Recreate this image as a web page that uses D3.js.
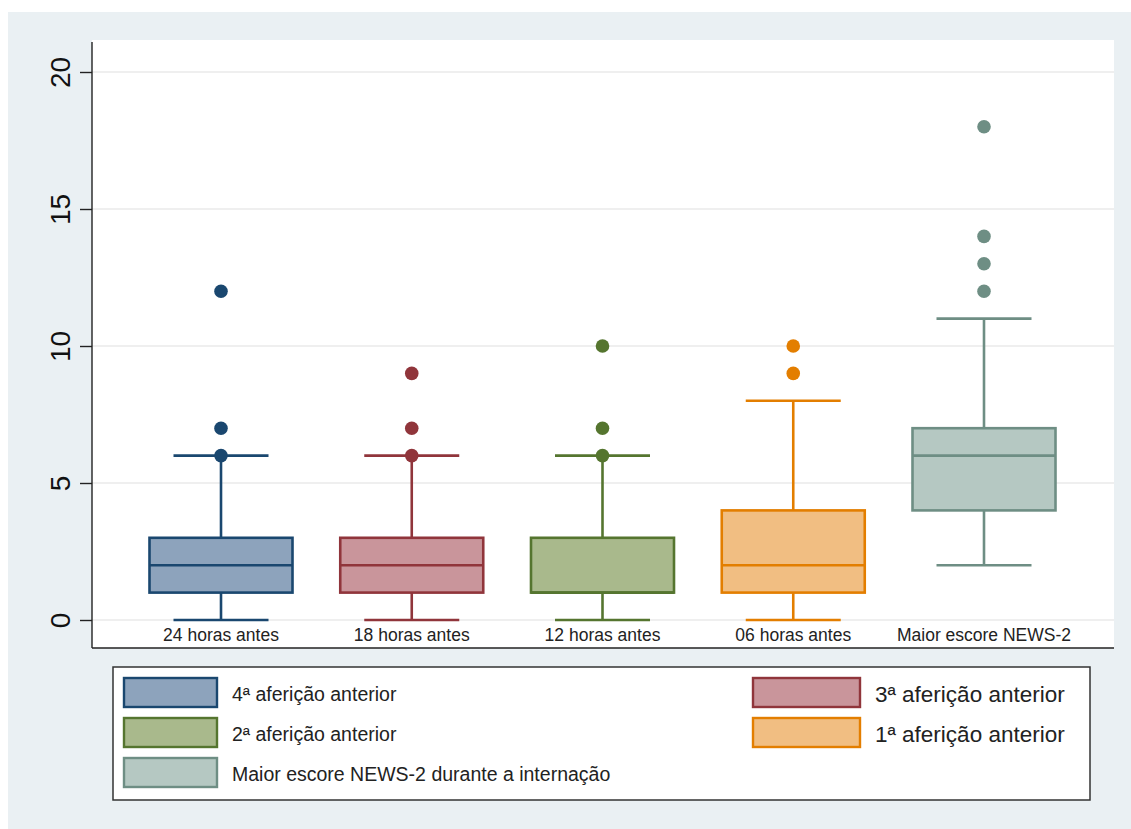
<!DOCTYPE html>
<html>
<head>
<meta charset="utf-8">
<script src="https://cdn.jsdelivr.net/npm/d3@7"></script>
<style>
  body { margin: 0; background: #ffffff; }
  svg { display: block; font-family: "Liberation Sans", Arial, sans-serif; }
</style>
</head>
<body>
<svg id="chart" width="1131" height="829"></svg>
<script>
// NEWS-2 scores at successive measurements before the event
const categories = ["24 horas antes", "18 horas antes", "12 horas antes", "06 horas antes", "Maior escore NEWS-2"];
const legendLabels = ["4ª aferição anterior", "3ª aferição anterior", "2ª aferição anterior", "1ª aferição anterior", "Maior escore NEWS-2 durante a internação"];
const whiskerLow  = [0, 0, 0, 0, 2];
const q1          = [1, 1, 1, 1, 4];
const median      = [2, 2, 1, 2, 6];
const q3          = [3, 3, 3, 4, 7];
const whiskerHigh = [6, 6, 6, 8, 11];
const outliers    = [[6, 7, 12], [6, 7, 9], [6, 7, 10], [9, 10], [12, 13, 14, 18]];
const yTicks      = [0, 5, 10, 15, 20];

const strokeColors = ["#1a476f", "#90353b", "#55752f", "#e37e00", "#6e8e84"];
const fillColors   = ["#8da3bc", "#c9959b", "#a9b98c", "#f1be82", "#b5c8c2"];

const svg = d3.select("#chart");

// outer graph region
svg.append("rect").attr("x", 8).attr("y", 12).attr("width", 1123).attr("height", 817).attr("fill", "#eaf0f3");

const plot = { left: 92, right: 1114, top: 40, bottom: 648 };
svg.append("rect")
  .attr("x", plot.left).attr("y", plot.top)
  .attr("width", plot.right - plot.left).attr("height", plot.bottom - plot.top)
  .attr("fill", "#ffffff");

const y = d3.scaleLinear().domain([0, 20]).range([620, 72]);
const x = d3.scalePoint().domain(categories).range([221, 984]);
const boxW = 143, capW = 95;

// gridlines
svg.append("g").selectAll("line").data(yTicks).join("line")
  .attr("x1", plot.left).attr("x2", plot.right)
  .attr("y1", d => y(d)).attr("y2", d => y(d))
  .attr("stroke", "#eaeaea").attr("stroke-width", 1.6);

// y axis
const yAxis = svg.append("g").attr("transform", `translate(${plot.left},0)`)
  .call(d3.axisLeft(y).tickValues(yTicks).tickSize(12).tickFormat(d3.format("d")));
yAxis.select(".domain").attr("d", `M0,${plot.top + 2}V${plot.bottom}`).attr("stroke", "#222").attr("stroke-width", 1.4);
yAxis.selectAll(".tick line").attr("stroke", "#222").attr("stroke-width", 1.4);
yAxis.selectAll(".tick text")
  .attr("x", null).attr("dy", null)
  .attr("transform", "translate(-22,0) rotate(-90)")
  .attr("text-anchor", "middle")
  .attr("font-size", 28)
  .attr("font-family", "'Liberation Sans', Arial, sans-serif")
  .attr("fill", "#111");

// x axis line
svg.append("line")
  .attr("x1", plot.left).attr("x2", plot.right)
  .attr("y1", plot.bottom).attr("y2", plot.bottom)
  .attr("stroke", "#222").attr("stroke-width", 1.4);

// boxes
const boxes = svg.append("g").selectAll("g").data(categories).join("g");
boxes.each(function (c, i) {
  const g = d3.select(this);
  const cx = x(c);
  const col = strokeColors[i];
  // whiskers
  g.append("line").attr("x1", cx).attr("x2", cx).attr("y1", y(q3[i])).attr("y2", y(whiskerHigh[i]))
    .attr("stroke", col).attr("stroke-width", 2.6);
  g.append("line").attr("x1", cx).attr("x2", cx).attr("y1", y(q1[i])).attr("y2", y(whiskerLow[i]))
    .attr("stroke", col).attr("stroke-width", 2.6);
  g.append("line").attr("x1", cx - capW / 2).attr("x2", cx + capW / 2).attr("y1", y(whiskerHigh[i])).attr("y2", y(whiskerHigh[i]))
    .attr("stroke", col).attr("stroke-width", 2.6);
  g.append("line").attr("x1", cx - capW / 2).attr("x2", cx + capW / 2).attr("y1", y(whiskerLow[i])).attr("y2", y(whiskerLow[i]))
    .attr("stroke", col).attr("stroke-width", 2.6);
  // box
  g.append("rect")
    .attr("x", cx - boxW / 2).attr("width", boxW)
    .attr("y", y(q3[i])).attr("height", y(q1[i]) - y(q3[i]))
    .attr("fill", fillColors[i]).attr("stroke", col).attr("stroke-width", 2.6);
  g.append("line").attr("x1", cx - boxW / 2).attr("x2", cx + boxW / 2).attr("y1", y(median[i])).attr("y2", y(median[i]))
    .attr("stroke", col).attr("stroke-width", 2.6);
  // outside values
  g.selectAll("circle").data(outliers[i]).join("circle")
    .attr("cx", cx).attr("cy", d => y(d)).attr("r", 6.8).attr("fill", col);
  // category label
  g.append("text").attr("x", cx).attr("y", 641).attr("text-anchor", "middle")
    .attr("font-size", 17.5).attr("fill", "#222").text(c);
});

// legend
const legend = svg.append("g");
legend.append("rect").attr("x", 113).attr("y", 667).attr("width", 977).attr("height", 133)
  .attr("fill", "#ffffff").attr("stroke", "#333").attr("stroke-width", 1.5);
const legendPos = [
  { kx: 124, ky: 678 }, { kx: 753, ky: 678 },
  { kx: 124, ky: 718 }, { kx: 753, ky: 718 },
  { kx: 124, ky: 758 }
];
legendLabels.forEach((lab, i) => {
  const p = legendPos[i];
  const left = i % 2 === 0;
  const kw = left ? 93 : 107;
  legend.append("rect").attr("x", p.kx).attr("y", p.ky).attr("width", kw).attr("height", 29)
    .attr("fill", fillColors[i]).attr("stroke", strokeColors[i]).attr("stroke-width", 2.4);
  legend.append("text").attr("x", p.kx + kw + 15).attr("y", p.ky + (left ? 23 : 24))
    .attr("font-size", left ? 19.5 : 22.5).attr("fill", "#222").text(lab);
});
</script>
</body>
</html>
